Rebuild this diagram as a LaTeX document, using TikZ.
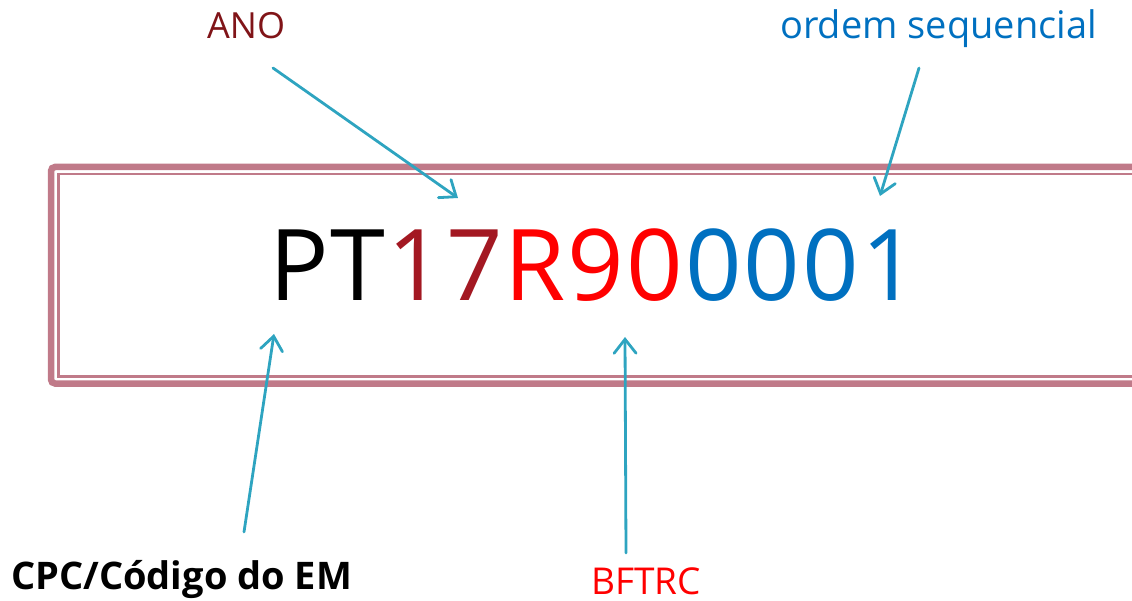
\documentclass[tikz,border=0pt]{standalone}
\usepackage{fontspec}
\setmainfont{Open Sans}
\usetikzlibrary{arrows.meta}
\definecolor{framec}{RGB}{192,122,137}
\definecolor{arrowc}{RGB}{46,164,192}
\definecolor{darkred}{RGB}{163,24,34}
\definecolor{anored}{RGB}{128,20,24}
\definecolor{seqblue}{RGB}{0,112,192}
\tikzset{
  lbl/.style={inner sep=0pt, anchor=base west},
  pointer/.style={draw=arrowc, line width=2.8pt, line cap=round,
    -{Straight Barb[length=14pt, width=22pt, line width=2.8pt, line cap=round]}},
  outerframe/.style={draw=framec, line width=6.5pt, rounded corners=4pt},
  innerframe/.style={draw=framec, line width=2.5pt},
}
\begin{document}
\begin{tikzpicture}[x=1pt, y=-1pt]
\useasboundingbox (0,0) rectangle (1132,601);
\begin{scope}
\clip (0,0) rectangle (1132,601);
\draw[outerframe] (1150,167) -- (51,167) -- (51,383.5) -- (1150,383.5);
\draw[innerframe] (1150,174) -- (58.5,174) -- (58.5,376.5) -- (1150,376.5);
\end{scope}
\node[lbl] (code) at (269,301) {\fontsize{99}{99}\selectfont
  P\kern2pt T\kern2pt\textcolor{darkred}{1\kern2pt 7}\kern2pt\textcolor{red}{R\kern2pt 9\kern2pt 0}\kern2pt\textcolor{seqblue}{0\kern2pt 0\kern2pt 0\kern2pt 1}};
\node[lbl, text=anored] (ano) at (207,39) {\fontsize{36}{36}\selectfont ANO};
\node[lbl, text=seqblue] (seq) at (780,39) {\fontsize{38}{38}\selectfont ordem sequencial};
\node[lbl] (cpc) at (11,589) {\fontsize{38}{38}\selectfont\bfseries CPC/Código do EM};
\node[lbl, text=red] (bft) at (591,594) {\fontsize{37}{37}\selectfont BFTRC};
\coordinate (anoS) at (273,68);
\coordinate (anoT) at (458,198);
\coordinate (seqS) at (919,68);
\coordinate (seqT) at (880,196);
\coordinate (cpcS) at (244,532);
\coordinate (cpcT) at (274,334);
\coordinate (bftS) at (626,553);
\coordinate (bftT) at (625,337);
\draw[pointer] (anoS) -- (anoT);
\draw[pointer] (seqS) -- (seqT);
\draw[pointer] (cpcS) -- (cpcT);
\draw[pointer] (bftS) -- (bftT);
\end{tikzpicture}
\end{document}
